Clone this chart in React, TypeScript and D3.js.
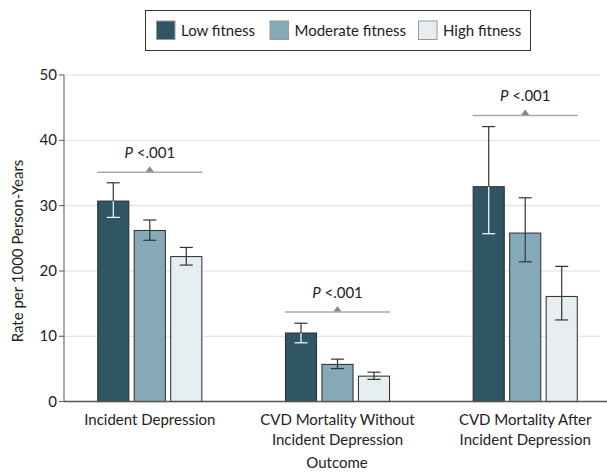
import * as d3 from "d3";

// outcome groups and fitness series
const outcomes = [
  ["Incident Depression"],
  ["CVD Mortality Without", "Incident Depression"],
  ["CVD Mortality After", "Incident Depression"],
];
const outcomeKeys = ["dep", "cvdWithout", "cvdAfter"];
const series = ["Low fitness", "Moderate fitness", "High fitness"];
const colors = ["#2f5662", "#86a9b7", "#e6eef1"];

// rates per 1000 person-years, [outcome][series]
const rates = [
  [30.7, 26.2, 22.2],
  [10.5, 5.7, 3.9],
  [32.9, 25.8, 16.1],
];
const ciLow = [
  [28.2, 24.7, 20.9],
  [9.0, 5.05, 3.4],
  [25.7, 21.4, 12.5],
];
const ciHigh = [
  [33.5, 27.8, 23.6],
  [12.0, 6.5, 4.5],
  [42.1, 31.2, 20.7],
];
// P-value bracket heights
const pLevels = [35.1, 13.7, 43.8];
const pLabel = "<.001";
const yTicks = [0, 10, 20, 30, 40, 50];

const font = "Lato, 'DejaVu Sans', sans-serif";

export default function App() {
  const W = 607;
  const H = 472;
  const left = 64;

  const y = d3.scaleLinear().domain([0, 50]).range([401.6, 75]);
  const x = d3
    .scaleBand<string>()
    .domain(outcomeKeys)
    .range([left, 611])
    .paddingInner(0.44)
    .paddingOuter(0.177);
  const xs = d3
    .scaleBand<string>()
    .domain(series)
    .range([0, x.bandwidth()])
    .paddingInner(0.12);

  const capW = 13;

  return (
    <svg
      width={W}
      height={H}
      style={{ position: "absolute", left: 0, top: 0, fontFamily: font }}
    >
      <rect width={W} height={H} fill="#fff" />

      {/* legend */}
      <rect x={145.5} y={10.5} width={385} height={40} fill="#fff" stroke="#333" strokeWidth={1} />
      {series.map((s, i) => {
        const lx = [156, 269.5, 418][i];
        return (
          <g key={s}>
            <rect x={lx + 0.5} y={21} width={18.5} height={18.5} fill={colors[i]} stroke="#999" strokeWidth={1} />
            <text x={lx + 25} y={36} fontSize={15} fill="#222">
              {s}
            </text>
          </g>
        );
      })}

      {/* grid */}
      {yTicks.slice(1).map((t) => (
        <line key={t} x1={left} x2={600} y1={y(t)} y2={y(t)} stroke="#dedede" strokeWidth={1} />
      ))}

      {/* bars */}
      {outcomeKeys.map((k, gi) => (
        <g key={k} transform={`translate(${x(k)},0)`}>
          {series.map((s, si) => {
            const bx = xs(s)!;
            const bw = xs.bandwidth();
            const cx = bx + bw / 2;
            const v = rates[gi][si];
            const lo = ciLow[gi][si];
            const hi = ciHigh[gi][si];
            const inner = si === 0 ? "#fff" : "#333";
            return (
              <g key={s}>
                <rect
                  x={bx + 0.5}
                  y={y(v)}
                  width={bw - 1}
                  height={y(0) - y(v)}
                  fill={colors[si]}
                  stroke="#2a2a2a"
                  strokeWidth={1}
                />
                <line x1={cx} x2={cx} y1={y(hi)} y2={y(v)} stroke="#333" strokeWidth={1.2} />
                <line x1={cx - capW / 2} x2={cx + capW / 2} y1={y(hi)} y2={y(hi)} stroke="#333" strokeWidth={1.2} />
                <line x1={cx} x2={cx} y1={y(v)} y2={y(lo)} stroke={inner} strokeWidth={1.2} />
                <line x1={cx - capW / 2} x2={cx + capW / 2} y1={y(lo)} y2={y(lo)} stroke={inner} strokeWidth={1.2} />
              </g>
            );
          })}
          {/* P value bracket */}
          <line
            x1={0}
            x2={x.bandwidth()}
            y1={y(pLevels[gi])}
            y2={y(pLevels[gi])}
            stroke="#aaa"
            strokeWidth={1.5}
          />
          <path
            d={`M${x.bandwidth() / 2 - 4},${y(pLevels[gi]) - 0.5} L${x.bandwidth() / 2 + 4},${y(pLevels[gi]) - 0.5} L${x.bandwidth() / 2},${y(pLevels[gi]) - 6} Z`}
            fill="#888"
          />
          <text
            x={x.bandwidth() / 2}
            y={y(pLevels[gi]) - 14}
            textAnchor="middle"
            fontSize={15}
            fill="#222"
          >
            <tspan fontStyle="italic">P</tspan> {pLabel}
          </text>
        </g>
      ))}

      {/* axes */}
      <line x1={left} x2={left} y1={75} y2={y(0)} stroke="#555" strokeWidth={1} />
      <line x1={left} x2={W} y1={y(0)} y2={y(0)} stroke="#555" strokeWidth={1.5} />
      {yTicks.map((t) => (
        <g key={t}>
          <line x1={left - 5} x2={left} y1={y(t)} y2={y(t)} stroke="#555" />
          <text x={left - 7} y={y(t) + 5} textAnchor="end" fontSize={15} fill="#222">
            {t}
          </text>
        </g>
      ))}
      {outcomeKeys.map((k, gi) => (
        <text
          key={k}
          x={x(k)! + x.bandwidth() / 2}
          y={425}
          textAnchor="middle"
          fontSize={15}
          fill="#222"
        >
          {outcomes[gi].map((l, li) => (
            <tspan key={li} x={x(k)! + x.bandwidth() / 2} dy={li === 0 ? 0 : 19.5}>
              {l}
            </tspan>
          ))}
        </text>
      ))}
      <text x={337} y={468} textAnchor="middle" fontSize={15} fill="#222">
        Outcome
      </text>
      <text
        transform="translate(23,251) rotate(-90)"
        textAnchor="middle"
        fontSize={15}
        fill="#222"
      >
        Rate per 1000 Person-Years
      </text>
    </svg>
  );
}
